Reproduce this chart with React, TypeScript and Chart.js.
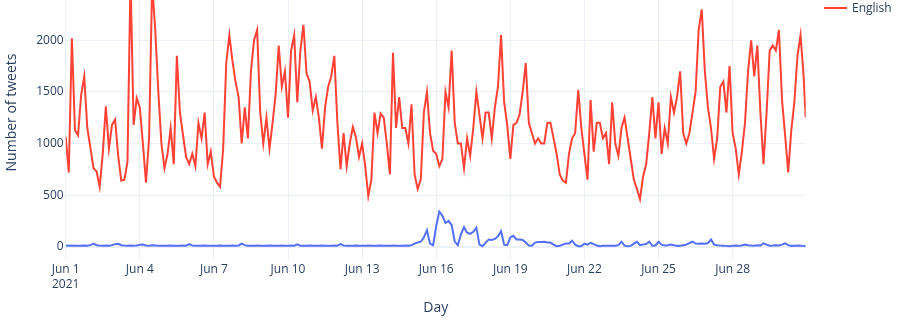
import React, { useEffect, useRef } from "react";
import { Chart, registerables } from "chart.js";

Chart.register(...registerables);

// x-axis ticks (hours since 2021-06-01 00:00) and their labels
const tickHours = [0, 72, 144, 216, 288, 360, 432, 504, 576, 648];
const tickLabels: (string | string[])[] = [
  ["Jun 1", "2021"], "Jun 4", "Jun 7", "Jun 10", "Jun 13",
  "Jun 16", "Jun 19", "Jun 22", "Jun 25", "Jun 28",
];
const yTicks = [0, 500, 1000, 1500, 2000, 2500];

// sample times: every 3 hours, plus the last hour of Jun 30
const sampleHours = [...Array(240).keys()].map((i) => i * 3).concat([719]);

// English tweets per hour (8 samples per day)
const englishCounts = [
  1065, 720, 2020, 1130, 1080, 1470, 1650, 1150,
  960, 760, 730, 580, 900, 1360, 950, 1180,
  1230, 880, 640, 650, 820, 2600, 1180, 1440,
  1350, 1000, 620, 1050, 2550, 2100, 1500, 1000,
  760, 900, 1150, 800, 1850, 1300, 1080, 870,
  800, 900, 780, 1200, 1050, 1300, 800, 920,
  680, 620, 580, 950, 1780, 2050, 1800, 1600,
  1450, 1000, 1350, 1050, 1700, 2000, 2100, 1300,
  1000, 1250, 950, 1200, 1480, 1950, 1550, 1700,
  1250, 1900, 2050, 1400, 1900, 2150, 1680, 1600,
  1320, 1450, 1250, 950, 1350, 1550, 1650, 1850,
  1200, 750, 1100, 780, 1000, 1160, 1060, 870,
  1000, 780, 490, 650, 1300, 1100, 1290, 1250,
  1000, 700, 1880, 1150, 1450, 1150, 1150, 1000,
  1380, 700, 560, 650, 1300, 1500, 1100, 930,
  900, 780, 850, 1500, 1350, 1900, 1200, 1000,
  1000, 760, 1050, 880, 1150, 1500, 1280, 1050,
  1300, 1300, 1050, 1350, 1550, 2050, 1400, 1180,
  850, 1180, 1200, 1280, 1500, 1780, 1200, 1100,
  1000, 1050, 1000, 1000, 1200, 1200, 1050, 900,
  700, 640, 620, 900, 1050, 1100, 1520, 1150,
  900, 650, 1420, 920, 1200, 1200, 1050, 1100,
  800, 1400, 1000, 880, 1150, 1250, 1050, 850,
  650, 560, 460, 680, 800, 1100, 1450, 1050,
  1400, 900, 1150, 1000, 1450, 1300, 1450, 1700,
  1100, 1000, 1100, 1300, 1500, 2100, 2300, 1700,
  1350, 1150, 850, 1050, 1550, 1600, 1300, 1750,
  1100, 950, 700, 920, 1200, 1700, 2000, 1650,
  1950, 1300, 800, 1300, 1900, 1950, 1900, 2100,
  1420, 1080, 720, 1130, 1400, 1850, 2050, 1650,
  1250,
];

// second language series (blue)
const otherCounts = [
  12, 10, 12, 10, 8, 10, 12, 10,
  15, 30, 15, 12, 10, 12, 10, 15,
  25, 28, 15, 12, 10, 12, 10, 12,
  18, 22, 12, 10, 14, 12, 10, 10,
  8, 10, 12, 10, 8, 10, 12, 10,
  25, 12, 10, 8, 10, 12, 10, 10,
  8, 10, 12, 10, 8, 10, 12, 10,
  12, 30, 15, 10, 8, 10, 12, 10,
  8, 10, 12, 10, 8, 10, 12, 10,
  10, 12, 10, 22, 10, 8, 10, 12,
  10, 8, 10, 12, 10, 8, 10, 12,
  10, 25, 12, 10, 8, 10, 12, 10,
  8, 10, 12, 10, 8, 10, 12, 10,
  8, 10, 12, 10, 8, 10, 12, 10,
  15, 30, 40, 48, 90, 160, 30, 15,
  200, 340, 300, 230, 250, 210, 50, 15,
  120, 190, 135, 125, 145, 185, 20, 5,
  40, 70, 65, 75, 100, 150, 20, 15,
  90, 105, 70, 70, 65, 40, 12, 10,
  40, 45, 45, 48, 40, 40, 20, 5,
  10, 20, 30, 30, 58, 20, 5, 5,
  30, 20, 38, 25, 12, 5, 8, 8,
  8, 8, 10, 15, 48, 10, 5, 8,
  30, 48, 15, 22, 25, 48, 10, 12,
  48, 20, 12, 15, 20, 15, 8, 10,
  15, 20, 35, 48, 30, 28, 30, 28,
  35, 70, 20, 15, 12, 10, 8, 5,
  10, 12, 10, 12, 22, 15, 12, 10,
  15, 12, 32, 20, 10, 12, 15, 12,
  20, 32, 15, 8, 10, 12, 10, 8,
  5,
];

const RED = "#FF4136";
const BLUE = "#5470F5";
const TEXT = "#2a3f5f";
const GRID = "#EBF0F8";
const FONT = "'Open Sans', verdana, arial, sans-serif";

export default function App() {
  const ref = useRef<HTMLCanvasElement>(null);

  useEffect(() => {
    const canvas = ref.current;
    if (!canvas) return;
    const chart = new Chart(canvas, {
      type: "line",
      data: {
        datasets: [
          {
            label: "English",
            data: sampleHours.map((h, i) => ({ x: h, y: englishCounts[i] })),
            borderColor: RED,
            backgroundColor: RED,
            borderWidth: 2,
            pointRadius: 0,
            tension: 0,
          },
          {
            label: "Other",
            data: sampleHours.map((h, i) => ({ x: h, y: otherCounts[i] })),
            borderColor: BLUE,
            backgroundColor: BLUE,
            borderWidth: 2,
            pointRadius: 0,
            tension: 0,
          },
        ],
      },
      options: {
        responsive: false,
        animation: false,
        devicePixelRatio: 1,
        layout: { padding: { left: 0, right: 91.3, top: 0, bottom: 0 } },
        plugins: { legend: { display: false }, tooltip: { enabled: false } },
        scales: {
          x: {
            type: "linear",
            min: 0,
            max: 719,
            afterBuildTicks: (s: any) => {
              s.ticks = tickHours.map((v) => ({ value: v }));
            },
            afterFit: (s: any) => {
              s.height = 64;
              s.paddingLeft = 0;
              s.paddingRight = 0;
            },
            ticks: {
              autoSkip: false,
              maxRotation: 0,
              minRotation: 0,
              padding: 2,
              color: TEXT,
              font: { family: FONT, size: 12, lineHeight: 1.25 },
              callback: (_v: any, i: number) => tickLabels[i],
            },
            grid: { color: GRID, lineWidth: 1, drawTicks: false },
            border: { display: false },
            title: {
              display: true,
              text: "Day",
              color: TEXT,
              font: { family: FONT, size: 14 },
              padding: { top: 4, bottom: 8 },
            },
          },
          y: {
            type: "linear",
            min: -128.9,
            max: 2729.7,
            afterBuildTicks: (s: any) => {
              s.ticks = yTicks.map((v) => ({ value: v }));
            },
            afterFit: (s: any) => {
              s.width = 65.7;
              s.paddingTop = 0;
              s.paddingBottom = 0;
            },
            ticks: {
              padding: 2,
              color: TEXT,
              font: { family: FONT, size: 12 },
              callback: (v: any) => String(v),
            },
            grid: {
              color: GRID,
              lineWidth: (ctx: any) => (ctx.tick && ctx.tick.value === 0 ? 2 : 1),
              drawTicks: false,
            },
            border: { display: false },
            title: {
              display: true,
              text: "Number of tweets",
              color: TEXT,
              font: { family: FONT, size: 14 },
              padding: { top: 4, bottom: 4 },
            },
          },
        },
      },
    });
    return () => chart.destroy();
  }, []);

  return (
    <div
      style={{
        position: "fixed",
        left: 0,
        top: 0,
        width: 897,
        height: 324,
        overflow: "hidden",
        background: "#fff",
      }}
    >
      <canvas
        ref={ref}
        width={897}
        height={359}
        style={{ position: "absolute", left: 0, top: -35, width: 897, height: 359 }}
      />
      <div
        style={{
          position: "absolute",
          left: 824,
          top: 0,
          height: 15,
          display: "flex",
          alignItems: "center",
          fontFamily: FONT,
          fontSize: 12,
          color: TEXT,
          whiteSpace: "nowrap",
        }}
      >
        <span style={{ display: "inline-block", width: 23, height: 2, background: RED, marginRight: 5 }} />
        <span>English</span>
      </div>
    </div>
  );
}
